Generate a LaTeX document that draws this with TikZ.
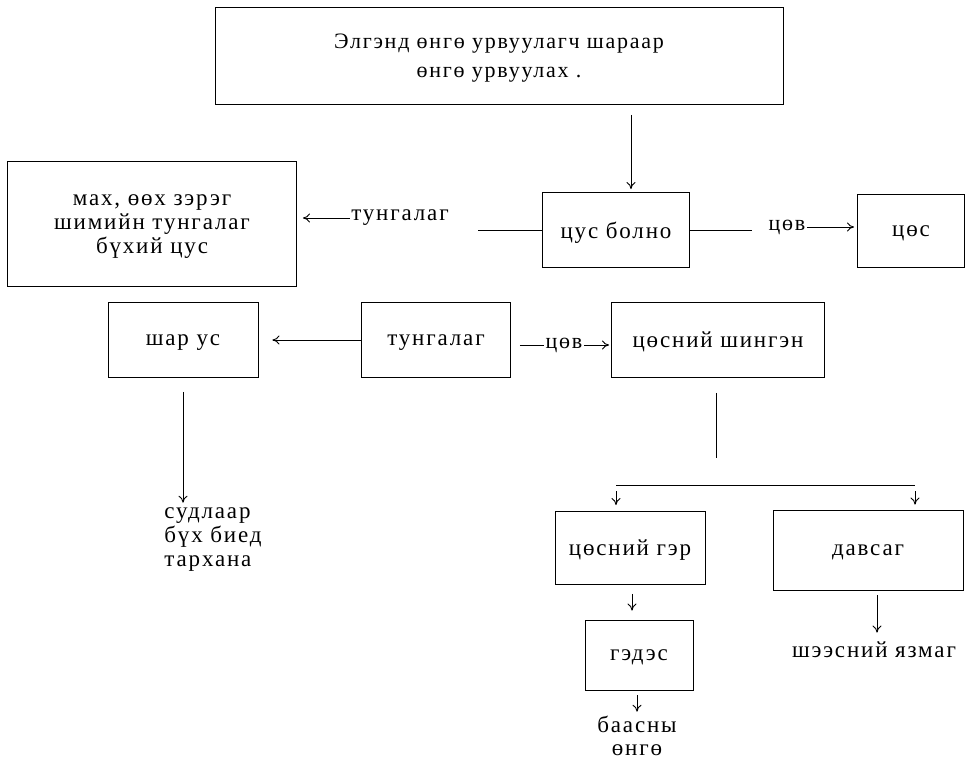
\documentclass[tikz,border=0pt]{standalone}
\usepackage{fontspec}
\setmainfont[LetterSpace=8]{Liberation Serif}
\usetikzlibrary{calc,arrows.meta}

\tikzset{
  blk/.style={draw,align=center,inner sep=0pt,text depth=0pt},
  lbl/.style={inner sep=1pt,align=center},
  arr/.style={-{To[length=7pt,width=9pt]}},
}

\begin{document}
\begin{tikzpicture}[x=1pt,y=-1pt,line width=0.9pt,font=\fontsize{23}{24}\selectfont]
  \useasboundingbox (0,0) rectangle (968,763);
  % boxes
  \node[blk,minimum width=568pt,minimum height=97pt,font=\fontsize{22}{29}\selectfont] (liver) at (499,56) {Элгэнд өнгө урвуулагч шараар\\өнгө урвуулах .};
  \node[blk,minimum width=289pt,minimum height=125pt] (plasma) at (152,224) {мах, өөх зэрэг\\шимийн тунгалаг\\бүхий цус};
  \node[blk,minimum width=147pt,minimum height=75pt] (blood) at (616,230) {цус болно};
  \node[blk,minimum width=107pt,minimum height=73pt] (bile) at (911,231) {цөс};
  \node[blk,minimum width=150pt,minimum height=75pt] (yellow) at (183,340) {шар ус};
  \node[blk,minimum width=149pt,minimum height=75pt] (clear) at (436,340) {тунгалаг};
  \node[blk,minimum width=213pt,minimum height=75pt] (juice) at (718,340) {цөсний шингэн};
  \node[blk,minimum width=150pt,minimum height=73pt] (gall) at (630,548) {цөсний гэр};
  \node[blk,minimum width=190pt,minimum height=80pt] (bladder) at (868,550) {давсаг};
  \node[blk,minimum width=108pt,minimum height=70pt] (gut) at (639,655) {гэдэс};
  % free texts
  \node[lbl,align=left] (veins) at (213,540) {судлаар\\бүх биед\\тархана};
  \node[lbl,font=\fontsize{23}{23}\selectfont] (stool) at (637,736) {баасны\\өнгө};
  \node[lbl] (urine) at (874,650) {шээсний язмаг};
  \node[lbl] (lbl1) at (400,218) {тунгалаг};
  \node[lbl,font=\fontsize{22}{24}\selectfont] (lbl2) at (787,227) {цөв};
  \node[lbl,font=\fontsize{22}{24}\selectfont] (lbl3) at (564,345) {цөв};
  % connectors
  \draw[arr,shorten <=10pt,shorten >=3pt] ([xshift=15pt]blood.north |- liver.south) -- ([xshift=15pt]blood.north);
  \draw (blood.west) -- ([xshift=28pt]lbl1.east |- blood.west);
  \draw[arr,shorten >=6pt] (lbl1.west) -- (plasma.east |- lbl1.west);
  \draw (blood.east) -- ([xshift=-15pt]lbl2.west |- blood.east);
  \draw[arr,shorten >=3pt] (lbl2.east) -- (bile.west |- lbl2.east);
  \draw[arr,shorten >=14pt] (clear.west) -- (yellow.east);
  \draw[shorten <=9pt] (clear.east |- lbl3.west) -- (lbl3.west);
  \draw[arr,shorten >=2pt] (lbl3.east) -- (juice.west |- lbl3.east);
  \draw[arr,shorten <=14pt,shorten >=4pt] (yellow.south) -- (yellow.south |- veins.north);
  \coordinate (split) at (juice.south |- 0,485);
  \coordinate (fl) at (616,485);
  \coordinate (fr) at (915,485);
  \draw[shorten <=15pt,shorten >=27pt] ([xshift=-2pt]juice.south) -- ([xshift=-2pt]split);
  \draw (fl) -- (fr);
  \draw[arr,shorten <=6pt,shorten >=6pt] (fl) -- (fl |- gall.north);
  \draw[arr,shorten <=6pt,shorten >=5pt] (fr) -- (fr |- bladder.north);
  \draw[arr,shorten <=9pt,shorten >=9pt] ([xshift=2pt]gall.south) -- ([xshift=-7pt]gut.north);
  \draw[arr,shorten <=5pt,shorten >=3pt] ([xshift=-2pt]gut.south) -- ([xshift=-2pt]gut.south |- stool.north);
  \draw[arr,shorten <=5pt,shorten >=8pt] ([xshift=9pt]bladder.south) -- ([xshift=9pt]bladder.south |- urine.north);
\end{tikzpicture}
\end{document}
